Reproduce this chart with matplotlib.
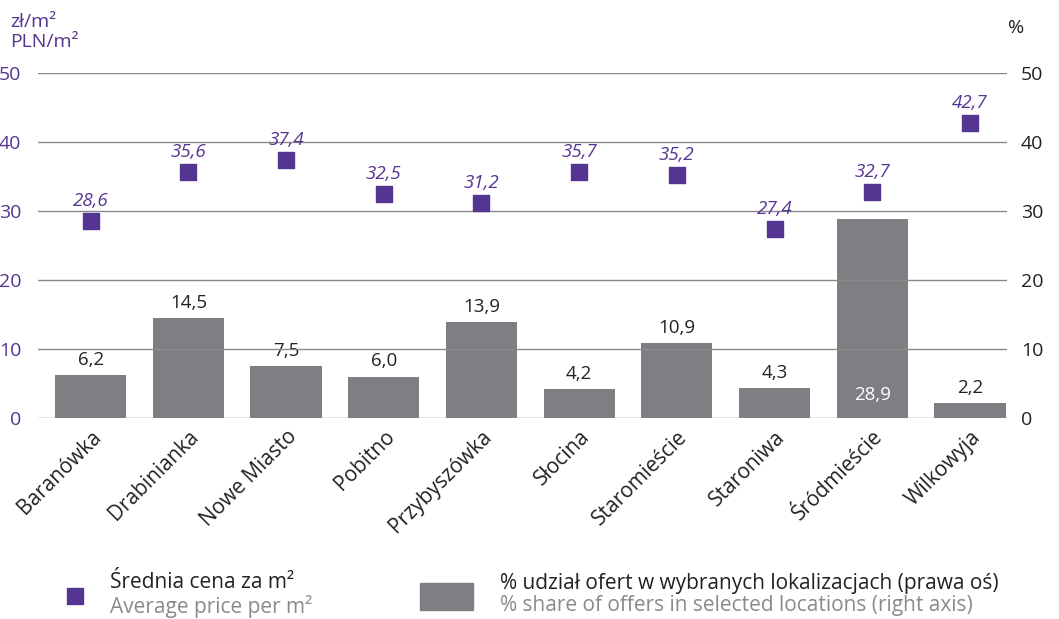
import numpy as np
import matplotlib.pyplot as plt
from matplotlib.patches import Rectangle

plt.rcParams['font.family'] = ['Open Sans', 'DejaVu Sans']

districts = ["Baranówka", "Drabinianka", "Nowe Miasto", "Pobitno", "Przybyszówka",
             "Słocina", "Staromieście", "Staroniwa", "Śródmieście", "Wilkowyja"]
price = [28.6, 35.6, 37.4, 32.5, 31.2, 35.7, 35.2, 27.4, 32.7, 42.7]
share = [6.2, 14.5, 7.5, 6.0, 13.9, 4.2, 10.9, 4.3, 28.9, 2.2]

purple = '#553592'
grey = '#7f7f83'
txt = '#222222'

fig = plt.figure(figsize=(10.59, 6.19), dpi=100)
ax = fig.add_axes([0.0359, 0.3247, 0.915, 0.5573])
ax2 = ax.twinx()

x = np.arange(len(districts))
ax2.bar(x, share, width=0.73, color=grey, zorder=2)
for xi, v in zip(x, share):
    s = f"{v:.1f}".replace('.', ',')
    if v > 20:
        ax2.text(xi, 2.0, s, ha='center', va='bottom', color='white', fontsize=13.5)
    else:
        ax2.text(xi, v + 0.9, s, ha='center', va='bottom', color=txt, fontsize=13.5)

ax.scatter(x, price, marker='s', s=135, color=purple, zorder=5)
for xi, v in zip(x, price):
    ax.text(xi, v + 1.6, f"{v:.1f}".replace('.', ','), ha='center', va='bottom',
            color=purple, fontsize=13.5, style='italic')

# price axis in front so markers sit over bars
ax.set_zorder(ax2.get_zorder() + 1)
ax.patch.set_visible(False)

for a in (ax, ax2):
    a.set_ylim(0, 50)
    a.set_yticks(range(0, 51, 10))
    for sp in a.spines.values():
        sp.set_visible(False)
    a.tick_params(length=0)
ax.set_xlim(-0.54, 9.38)

for yv in range(0, 51, 10):
    ax.axhline(yv, color='#8a8a8a', lw=1.0, zorder=0)

ax.tick_params(axis='y', labelcolor=purple, labelsize=14, pad=12)
ax2.tick_params(axis='y', labelcolor=txt, labelsize=14, pad=10)
ax.set_xticks(x)
ax.set_xticklabels(districts, rotation=45, ha='right', rotation_mode='anchor',
                   fontsize=15, color=txt)
ax.tick_params(axis='x', pad=6)

fig.text(0.010, 0.965, "zł/m²", color=purple, fontsize=14, va='center')
fig.text(0.010, 0.932, "PLN/m²", color=purple, fontsize=14, va='center')
fig.text(0.952, 0.955, "%", color=txt, fontsize=14, va='center')

# legend
fig.patches.append(Rectangle((67 / 1059, 1 - 604 / 619), 16 / 1059, 16 / 619,
                             transform=fig.transFigure, color=purple))
fig.text(110 / 1059, 1 - 583 / 619, "Średnia cena za m²", color=txt, fontsize=15, va='center')
fig.text(110 / 1059, 1 - 606 / 619, "Average price per m²", color='#8a8a8a', fontsize=15, va='center')
fig.patches.append(Rectangle((420 / 1059, 1 - 610 / 619), 53 / 1059, 27 / 619,
                             transform=fig.transFigure, color=grey))
fig.text(500 / 1059, 1 - 583 / 619, "% udział ofert w wybranych lokalizacjach (prawa oś)",
         color=txt, fontsize=15, va='center')
fig.text(500 / 1059, 1 - 606 / 619, "% share of offers in selected locations (right axis)",
         color='#8a8a8a', fontsize=15, va='center')

fig.savefig("out.png", dpi=100)
